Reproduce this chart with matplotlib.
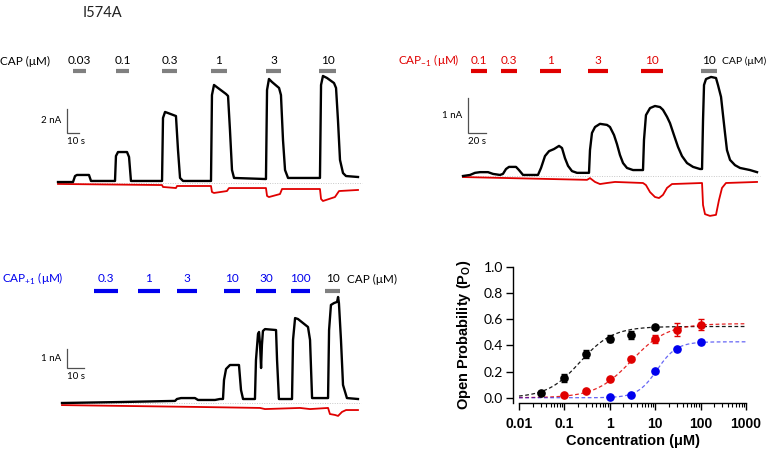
"""
plot.py - I574A current traces (CAP, CAP-1, CAP+1) and the Po dose-response.
Writes out.png.
"""

import matplotlib
matplotlib.use("Agg")
import matplotlib.pyplot as plt
import matplotlib.transforms as mtransforms
import numpy as np

plt.rcParams["font.family"] = ["Lato", "DejaVu Sans"]
plt.rcParams["mathtext.fontset"] = "custom"
plt.rcParams["mathtext.rm"] = "Lato"
plt.rcParams["mathtext.bf"] = "Liberation Sans:bold"

W, H = 767, 449

GRAY = "#808080"
RED = "#e00000"
BLUE = "#0000ee"
ZERO_C = "#c8c8c8"
SCALE_C = "#505050"
LAB_FS = 8.5

# ---------------- panel A: CAP (time s, current nA)
capA_labels = ["0.03", "0.1", "0.3", "1", "3", "10"]
capA_on = [12.5, 48.3, 86.7, 127.5, 173.3, 217.5]
capA_off = [23.3, 59.2, 99.2, 140.8, 185.8, 231.7]

A_t = [0, 12.5, 14.2, 15.8, 25.8, 27.5, 47.5, 48.3, 50.0, 57.5, 59.2, 60.8,
       86.7, 87.5, 89.2, 91.7, 98.3, 100.0, 101.7, 104.2,
       127.5, 128.3, 130.0, 133.3, 140.0, 141.7, 143.3, 145.0, 146.7,
       173.3, 174.2, 175.8, 178.3, 184.2, 185.8, 187.5, 189.2, 191.7,
       218.3, 219.2, 220.8, 224.2, 230.0, 231.7, 233.3, 235.0, 237.5, 240.0, 250.0]
A_i = [0.08, 0.08, 0.58, 0.67, 0.67, 0.17, 0.17, 2.25, 2.58, 2.58, 2.17, 0.17,
       0.17, 5.42, 5.92, 5.83, 5.58, 2.75, 0.42, 0.17,
       0.17, 7.33, 8.17, 7.92, 7.42, 7.25, 4.42, 1.08, 0.42,
       0.33, 7.75, 8.67, 8.42, 7.92, 7.33, 3.58, 1.08, 0.42,
       0.42, 8.17, 8.92, 8.75, 8.33, 7.92, 5.25, 1.92, 0.83, 0.58, 0.5]
A_leak_t = [0, 86.7, 87.5, 98.3, 99.2, 127.5, 128.3, 130.0, 140.8, 142.5,
            173.3, 174.2, 175.8, 185.0, 186.7, 218.3, 219.2, 220.8, 230.8, 234.2, 250.0]
A_leak_i = [-0.08, -0.17, -0.33, -0.42, -0.25, -0.25, -0.75, -0.83, -0.67, -0.42,
            -0.42, -1.08, -1.17, -0.92, -0.5, -0.5, -1.33, -1.5, -1.17, -0.67, -0.58]

# ---------------- panel B: CAP-1 then 10 uM CAP
capB_labels = ["0.1", "0.3", "1", "3", "10"]
capB_on = [8.9, 42.2, 85.6, 138.9, 197.8]
capB_off = [26.7, 60.0, 108.9, 161.1, 222.2]
refB = ("10", 264.4, 282.2)

B_t = [0, 7.8, 13.3, 18.9, 27.8, 33.3, 41.1, 44.4, 47.8, 51.1, 58.9, 62.2, 66.7,
       83.3, 86.7, 91.1, 95.6, 101.1, 106.7, 110.0, 113.3, 116.7, 121.1, 126.7,
       140.0, 141.1, 143.3, 146.7, 152.2, 160.0, 163.3, 167.8, 171.1, 174.4, 177.8,
       182.2, 188.9, 200.0, 201.1, 203.3, 207.8, 213.3, 218.9, 222.2, 226.7, 230.0,
       234.4, 238.9, 243.3, 248.9, 255.6, 263.3, 265.6, 266.7, 267.8, 270.0, 275.6,
       281.1, 283.3, 286.7, 288.9, 291.1, 293.3, 296.7, 302.2, 307.8, 318.9, 326.7]
B_i = [0, 0.03, 0.09, 0.11, 0.11, 0.06, 0.03, 0.06, 0.20, 0.26, 0.26, 0.17, 0.03,
       0.03, 0.23, 0.57, 0.71, 0.77, 0.86, 0.80, 0.51, 0.29, 0.14, 0.09,
       0.09, 0.74, 1.23, 1.40, 1.49, 1.46, 1.40, 1.17, 0.91, 0.60, 0.37,
       0.23, 0.17, 0.17, 1.03, 1.74, 1.94, 2.00, 1.97, 1.89, 1.69, 1.51,
       1.17, 0.83, 0.57, 0.37, 0.26, 0.20, 0.20, 1.60, 2.60, 2.77, 2.83,
       2.80, 2.60, 2.26, 1.74, 1.23, 0.74, 0.46, 0.31, 0.23, 0.17, 0.11]
B_leak_t = [0, 137.8, 141.1, 146.7, 152.2, 160.0, 168.9, 200.0, 203.3, 207.8,
            213.3, 217.8, 222.2, 226.7, 232.2, 265.6, 266.7, 268.9, 274.4, 281.1,
            284.4, 287.8, 292.2, 326.7]
B_leak_i = [-0.03, -0.11, -0.06, -0.17, -0.23, -0.20, -0.17, -0.20, -0.26, -0.46,
            -0.60, -0.63, -0.54, -0.34, -0.23, -0.20, -0.83, -1.09, -1.14, -1.11,
            -0.69, -0.34, -0.20, -0.17]

# ---------------- panel C: CAP+1 then 10 uM CAP
capC_labels = ["0.3", "1", "3", "10", "30", "100"]
capC_on = [18.8, 44.7, 67.6, 95.3, 114.1, 134.7]
capC_off = [32.9, 57.6, 79.4, 104.7, 125.9, 145.9]
refC = ("10", 154.7, 163.5)

C_t = [0, 34.1, 66.5, 67.6, 70.0, 78.2, 80.0, 90.0, 92.9, 94.7, 95.3, 96.5, 98.8,
       104.1, 105.3, 106.5, 113.5, 114.1, 115.3, 115.9, 116.5, 117.1, 117.6, 118.2,
       119.4, 125.9, 126.5, 127.6, 135.3, 135.9, 137.1, 138.8, 144.7, 145.9, 147.1,
       156.5, 157.1, 158.2, 160.0, 161.8, 162.4, 162.9, 164.1, 165.3, 167.6, 174.1]
C_i = [0, 0.05, 0.11, 0.21, 0.26, 0.26, 0.16, 0.16, 0.21, 0.21, 1.21, 1.79, 2.0,
       2.0, 0.68, 0.21, 0.21, 2.26, 3.63, 3.74, 3.05, 1.84, 3.05, 3.79,
       3.89, 3.84, 2.26, 0.21, 0.21, 3.32, 4.47, 4.42, 4.0, 3.32, 0.26,
       0.26, 3.84, 5.16, 5.26, 5.32, 5.58, 5.26, 3.32, 0.95, 0.26, 0.21]
C_leak_t = [0, 81.2, 116.5, 119.4, 140.0, 145.9, 156.5, 157.6, 160.6, 162.4,
            164.7, 167.1, 174.1]
C_leak_i = [-0.11, -0.21, -0.26, -0.32, -0.26, -0.32, -0.26, -0.58, -0.63, -0.68,
            -0.47, -0.37, -0.37]

# ---------------- panel D: open probability
conc_black = [0.03, 0.1, 0.3, 1, 3, 10]
po_black = [0.04, 0.15, 0.335, 0.452, 0.477, 0.545]
err_black = [0.012, 0.03, 0.03, 0.025, 0.03, 0.012]
conc_red = [0.1, 0.3, 1, 3, 10, 30, 100]
po_red = [0.02, 0.05, 0.14, 0.30, 0.452, 0.52, 0.56]
err_red = [0.008, 0.01, 0.012, 0.012, 0.03, 0.05, 0.04]
conc_blue = [1, 3, 10, 30, 100]
po_blue = [0.005, 0.023, 0.204, 0.37, 0.427]
err_blue = [0.004, 0.006, 0.012, 0.012, 0.012]
# Hill fit parameters: (Pmax, EC50 uM, n)
fit_black = (0.545, 0.22, 1.2)
fit_red = (0.567, 3.0, 1.1)
fit_blue = (0.428, 11.0, 2.0)

fig = plt.figure(figsize=(W / 100, H / 100), dpi=100)
fig.patch.set_facecolor("white")


def trace_axes(box, t0_px, zero_px, px_per_s, px_per_na):
    x0, y0, x1, y1 = box
    ax = fig.add_axes([x0 / W, 1 - y1 / H, (x1 - x0) / W, (y1 - y0) / H])
    ax.set_xlim((x0 - t0_px) / px_per_s, (x1 - t0_px) / px_per_s)
    ax.set_ylim((zero_px - y1) / px_per_na, (zero_px - y0) / px_per_na)
    ax.axis("off")
    trans = mtransforms.blended_transform_factory(ax.transData, fig.transFigure)
    return ax, trans


def draw_traces(ax, t, i, lt, li, t_end):
    ax.plot([0, t_end], [0, 0], ls=(0, (1, 1.5)), color=ZERO_C, lw=0.7)
    ax.plot(lt, li, color=RED, lw=1.3, solid_joinstyle="round")
    ax.plot(t, i, color="black", lw=1.7, solid_joinstyle="round")


def draw_bars(ax, trans, labels, on, off, color, text_color, y_lab, y_bar):
    for lab, a, b in zip(labels, on, off):
        ax.plot([a, b], [1 - y_bar / H] * 2, transform=trans, color=color,
                lw=3.0, solid_capstyle="butt", clip_on=False)
        ax.text((a + b) / 2, 1 - y_lab / H, lab, transform=trans, color=text_color,
                ha="center", va="center", fontsize=LAB_FS, clip_on=False)


def scale_bar(ax, t, i, dt, di, lab_i, lab_t):
    ax.plot([t, t, t + dt], [i + di, i, i], color=SCALE_C, lw=0.9,
            solid_joinstyle="miter")
    ax.annotate(lab_i, (t, i + di / 2), xytext=(-4, 0), textcoords="offset points",
                ha="right", va="center", fontsize=7)
    ax.annotate(lab_t, (t, i), xytext=(0, -3), textcoords="offset points",
                ha="left", va="top", fontsize=7)


def px(x, y):
    return x / W, 1 - y / H


# ---- A
axA, trA = trace_axes((0, 40, 380, 215), 58, 183, 1.2, 12.0)
draw_traces(axA, A_t, A_i, A_leak_t, A_leak_i, 253)
draw_bars(axA, trA, capA_labels, capA_on, capA_off, GRAY, "black", 61, 71)
scale_bar(axA, 7.5, 4.17, 10, 2, "2 nA", "10 s")
fig.text(*px(83, 13), "I574A", fontsize=10.5, ha="left", va="center", color="#222222")
fig.text(*px(0, 61), "CAP (μM)", fontsize=LAB_FS, ha="left", va="center")

# ---- B
axB, trB = trace_axes((385, 40, 767, 225), 463, 176, 0.9, 35.0)
draw_traces(axB, B_t, B_i, B_leak_t, B_leak_i, 330)
draw_bars(axB, trB, capB_labels, capB_on, capB_off, RED, RED, 61, 71)
draw_bars(axB, trB, [refB[0]], [refB[1]], [refB[2]], GRAY, "black", 61, 71)
scale_bar(axB, 5.6, 1.23, 20, 1, "1 nA", "20 s")
fig.text(*px(398, 61), r"CAP$_\mathrm{-1}$ (μM)", fontsize=LAB_FS, ha="left",
         va="center", color=RED)
fig.text(*px(766, 61), "CAP (μM)", fontsize=7.5, ha="right", va="center")

# ---- C
axC, trC = trace_axes((0, 260, 380, 440), 62, 403, 1.7, 19.0)
draw_traces(axC, C_t, C_i, C_leak_t, C_leak_i, 176)
draw_bars(axC, trC, capC_labels, capC_on, capC_off, BLUE, BLUE, 279, 291)
draw_bars(axC, trC, [refC[0]], [refC[1]], [refC[2]], GRAY, "black", 279, 291)
scale_bar(axC, 2.9, 1.84, 10, 1, "1 nA", "10 s")
fig.text(*px(2, 279), r"CAP$_\mathrm{+1}$ (μM)", fontsize=LAB_FS, ha="left",
         va="center", color=BLUE)
fig.text(*px(347, 279), "CAP (μM)", fontsize=LAB_FS, ha="left", va="center")

# ---- D
axD = fig.add_axes([519 / W, 1 - 403 / H, (746 - 519) / W, (403 - 267) / H])
axD.set_xscale("log")
axD.set_xlim(0.01, 1000)
axD.set_ylim(-0.04, 1.0)
cc = np.logspace(-2, 3, 300)
for (pmax, ec50, n), col, a in ((fit_black, "black", 0.9), (fit_red, RED, 0.85),
                                (fit_blue, BLUE, 0.6)):
    axD.plot(cc, pmax / (1 + (ec50 / cc) ** n), ls=(0, (3, 2)), color=col,
             lw=0.9, alpha=a, clip_on=False)
for x, y, e, col in ((conc_black, po_black, err_black, "black"),
                     (conc_red, po_red, err_red, RED),
                     (conc_blue, po_blue, err_blue, BLUE)):
    axD.errorbar(x, y, yerr=e, fmt="o", color=col, ms=5.2, elinewidth=1,
                 capsize=2.5, capthick=1, clip_on=False, zorder=3)

bold = dict(family="Liberation Sans", weight="bold")
axD.set_yticks([0, 0.2, 0.4, 0.6, 0.8, 1.0])
axD.set_yticklabels(["0.0", "0.2", "0.4", "0.6", "0.8", "1.0"], fontdict=bold,
                    fontsize=10)
axD.set_xticks([0.01, 0.1, 1, 10, 100, 1000])
axD.set_xticklabels(["0.01", "0.1", "1", "10", "100", "1000"], fontdict=bold,
                    fontsize=10)
axD.tick_params(axis="y", direction="out", length=5, width=1, pad=2)
axD.tick_params(axis="x", which="major", direction="out", length=5, width=1, pad=5)
axD.tick_params(axis="x", which="minor", direction="out", length=3, width=0.8)
axD.spines["left"].set_position(("outward", 4.5))
for s in ("top", "right"):
    axD.spines[s].set_visible(False)
for s in ("left", "bottom"):
    axD.spines[s].set_linewidth(1)
axD.set_xlabel("Concentration (μM)", fontdict=bold, fontsize=10.5, labelpad=2)
axD.set_ylabel(r"Open Probability (P$_\mathbf{O}$)", fontdict=bold, fontsize=10.5,
               labelpad=8)

fig.savefig("out.png", dpi=100, facecolor="white")
